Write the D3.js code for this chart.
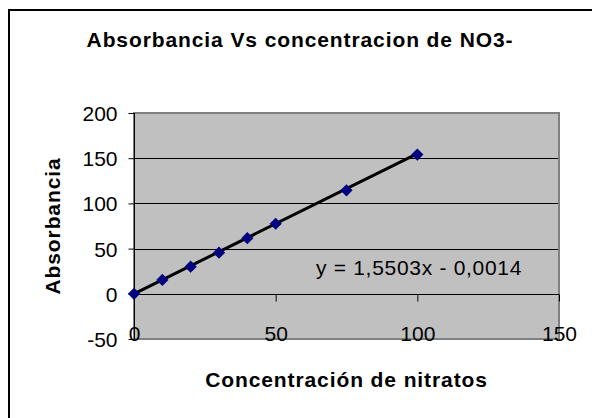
<!DOCTYPE html>
<html>
<head>
<meta charset="utf-8">
<script src="https://cdn.jsdelivr.net/npm/d3@7"></script>
<style>
  body { margin: 0; background: #fff; }
  text { font-family: 'Liberation Sans', Arial, sans-serif; fill: #000; }
</style>
</head>
<body>
<main></main>
<script>
'use strict';

// data
const concentration = [0, 10, 20, 30, 40, 50, 75, 100];
const absorbance = [0, 15.4, 30, 45.5, 61.5, 77.5, 114.5, 154];
const xTicks = [0, 50, 100, 150];
const yTicks = [-50, 0, 50, 100, 150, 200];
const gridValues = [50, 100, 150];
const slope = 1.5503;
const intercept = -0.0014;
const equationLabel = 'y = 1,5503x - 0,0014';

const width = 592,
  height = 418;
const plot = { left: 134, right: 559, top: 113, bottom: 339 };

// plain hyphen for negatives, like the original
const fmt = d => String(d);

const svg = d3.select('main')
  .append('svg')
  .attr('width', width)
  .attr('height', height);

// chart frame (runs past the right and bottom edge of the picture)
svg.append('rect')
  .attr('x', 9)
  .attr('y', 10)
  .attr('width', 640)
  .attr('height', 460)
  .attr('fill', '#fff')
  .attr('stroke', '#000')
  .attr('stroke-width', 2);

const x = d3.scaleLinear().domain([0, 150]).range([plot.left, plot.right]);
const y = d3.scaleLinear().domain([-50, 200]).range([plot.bottom, plot.top]);

// plot area
svg.append('rect')
  .attr('x', plot.left)
  .attr('y', plot.top)
  .attr('width', plot.right - plot.left)
  .attr('height', plot.bottom - plot.top)
  .attr('fill', '#c0c0c0');

svg.append('g')
  .selectAll('line')
  .data(gridValues)
  .enter()
  .append('line')
  .attr('x1', plot.left)
  .attr('x2', plot.right)
  .attr('y1', d => Math.round(y(d)) + 0.5)
  .attr('y2', d => Math.round(y(d)) + 0.5)
  .attr('stroke', '#000')
  .attr('stroke-width', 1);

svg.append('rect')
  .attr('x', plot.left)
  .attr('y', plot.top)
  .attr('width', plot.right - plot.left)
  .attr('height', plot.bottom - plot.top)
  .attr('fill', 'none')
  .attr('stroke', '#808080')
  .attr('stroke-width', 2);

// y axis
const yAxis = d3.axisLeft(y)
  .tickValues(yTicks)
  .tickSize(6)
  .tickPadding(11)
  .tickFormat(fmt);

svg.append('g')
  .attr('id', 'y-axis')
  .attr('transform', `translate(${plot.left + 0.5}, 0)`)
  .call(yAxis)
  .call(g => g.select('.domain').attr('d', `M0,${plot.top}V${plot.bottom}`))
  .call(g => g.selectAll('text')
    .style('font-size', '21px')
    .style('font-family', "'Liberation Sans', Arial, sans-serif")
    .attr('dy', '0.36em'));

// x axis crosses at y = 0, labels sit low near the bottom edge
const xAxis = d3.axisBottom(x)
  .tickValues(xTicks)
  .tickSize(7)
  .tickPadding(25)
  .tickFormat(fmt);

svg.append('g')
  .attr('id', 'x-axis')
  .attr('transform', `translate(0, ${Math.round(y(0)) + 0.5})`)
  .call(xAxis)
  .call(g => g.select('.domain').attr('d', `M${plot.left},0H${plot.right}`))
  .call(g => g.selectAll('text')
    .style('font-size', '21px')
    .style('font-family', "'Liberation Sans', Arial, sans-serif"));

// trend line
const xMax = d3.max(concentration);
svg.append('line')
  .attr('x1', x(0))
  .attr('y1', y(slope * 0 + intercept))
  .attr('x2', x(xMax))
  .attr('y2', y(slope * xMax + intercept))
  .attr('stroke', '#000')
  .attr('stroke-width', 3);

// markers
const diamond = d3.symbol().type(d3.symbolDiamond2).size(95);
svg.append('g')
  .selectAll('path')
  .data(concentration.map((c, i) => ({ c, a: absorbance[i] })))
  .enter()
  .append('path')
  .attr('d', diamond)
  .attr('transform', d => `translate(${x(d.c)}, ${y(d.a)})`)
  .attr('fill', '#000080');

// equation
svg.append('text')
  .attr('x', 316)
  .attr('y', 275)
  .style('font-size', '21px')
  .style('letter-spacing', '0.7px')
  .text(equationLabel);

// titles
svg.append('text')
  .attr('id', 'title')
  .attr('x', 300)
  .attr('y', 47)
  .attr('text-anchor', 'middle')
  .style('font-size', '21px')
  .style('font-weight', 'bold')
  .style('letter-spacing', '0.9px')
  .text('Absorbancia Vs concentracion de NO3-');

svg.append('text')
  .attr('x', (plot.left + plot.right) / 2)
  .attr('y', 387)
  .attr('text-anchor', 'middle')
  .style('font-size', '21px')
  .style('font-weight', 'bold')
  .style('letter-spacing', '0.9px')
  .text('Concentración de nitratos');

svg.append('text')
  .attr('transform', `translate(60, ${(plot.top + plot.bottom) / 2}) rotate(-90)`)
  .attr('text-anchor', 'middle')
  .style('font-size', '21px')
  .style('font-weight', 'bold')
  .style('letter-spacing', '0.9px')
  .text('Absorbancia');
</script>
</body>
</html>
